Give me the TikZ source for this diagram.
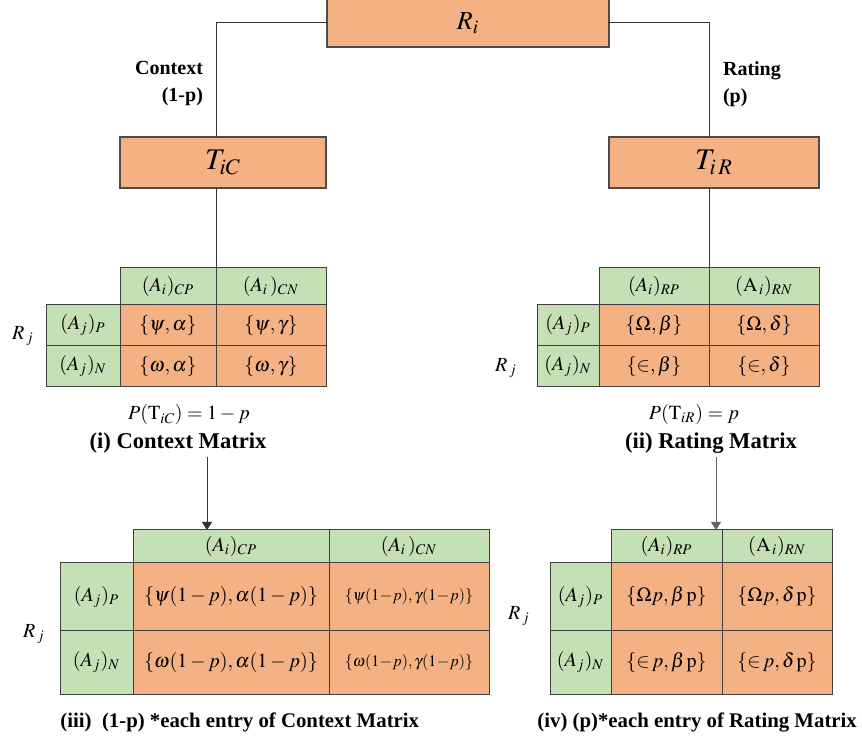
\documentclass[tikz,border=0pt]{standalone}
\usepackage{mathptmx}
\usepackage{fontspec}
\setmainfont{Liberation Serif}
\usetikzlibrary{arrows.meta}

\definecolor{cellorange}{HTML}{F4B183}
\definecolor{cellgreen}{HTML}{C5E0B4}

% style, name, x1, y1, x2, y2, text  (pixel corners, y going down)
\newcommand{\cell}[7]{%
  \node[#1, minimum width={(#5-#3)*0.5pt}, minimum height={(#6-#4)*0.5pt}]
    (#2) at ({(#3+#5)/2},{(#4+#6)/2}) {#7};}

\begin{document}
\begin{tikzpicture}[x=0.5pt, y=-0.5pt,
    box/.style={draw=black!70, line width=0.6pt, fill=cellorange,
      inner sep=0pt, outer sep=0pt},
    val/.style={draw=black!75, line width=0.5pt, fill=cellorange,
      inner sep=0pt, outer sep=0pt, font=\fontsize{10}{12}\selectfont},
    head/.style={val, fill=cellgreen},
    lbl/.style={font=\bfseries\fontsize{10}{13.5}\selectfont},
    title/.style={font=\bfseries\fontsize{11.3}{13}\selectfont},
    note/.style={font=\bfseries\fontsize{10.4}{13}\selectfont, anchor=west, inner sep=0pt},
    eqn/.style={font=\fontsize{10}{12}\selectfont},
    link/.style={black!80, line width=0.5pt},
    tip/.style={-{Triangle[length=4pt, width=5pt]}}]
  \useasboundingbox (0,0) rectangle (862,742);

  % root and the two branches
  \cell{box, font=\fontsize{13}{15}\selectfont}{Ri}{327}{-1}{609}{47}{\raisebox{-2pt}{$R_i$}}
  \cell{box, font=\fontsize{15}{17}\selectfont}{TiC}{120}{137}{326}{188}{$T_{iC}$}
  \cell{box, font=\fontsize{15}{17}\selectfont}{TiR}{609}{137}{819}{188}{$T_{i\,R}$}

  \node[lbl, align=right, anchor=east] (ctx) at (210,84) {Context\\(1-p)};
  \node[lbl, align=left, anchor=west] (rat) at (716,84) {Rating\\(p)};

  % (i) context matrix
  \cell{head}{hC1}{120}{268}{216}{305}{$(A_i)_{CP}$}
  \cell{head}{hC2}{216}{268}{326}{305}{$(A_i\,)_{CN}$}
  \cell{head}{rC1}{46}{305}{120}{346}{$(A_j)_P$}
  \cell{head}{rC2}{46}{346}{120}{387}{$(A_j)_N$}
  \cell{val}{cC11}{120}{305}{216}{346}{$\{\psi,\alpha\}$}
  \cell{val}{cC12}{216}{305}{326}{346}{$\{\psi,\gamma\}$}
  \cell{val}{cC21}{120}{346}{216}{387}{$\{\omega,\alpha\}$}
  \cell{val}{cC22}{216}{346}{326}{387}{$\{\omega,\gamma\}$}
  \node[eqn] (RjC) at (23,336) {$R_{\,j}$};
  \node[eqn] (pC) at (189,415) {$P(\mathrm{T}_{iC})=1-p$};
  \node[title] (capC) at (178,443) {(i) Context Matrix};

  % (ii) rating matrix
  \cell{head}{hR1}{599}{268}{709}{305}{$(A_i)_{RP}$}
  \cell{head}{hR2}{709}{268}{819}{305}{$(\mathrm{A}_{\,i})_{RN}$}
  \cell{head}{rR1}{537}{305}{599}{346}{$(A_j)_P$}
  \cell{head}{rR2}{537}{346}{599}{387}{$(A_j)_N$}
  \cell{val}{cR11}{599}{305}{709}{346}{$\{\Omega,\beta\}$}
  \cell{val}{cR12}{709}{305}{819}{346}{$\{\Omega,\delta\}$}
  \cell{val}{cR21}{599}{346}{709}{387}{$\{{\in},\beta\}$}
  \cell{val}{cR22}{709}{346}{819}{387}{$\{{\in},\delta\}$}
  \node[eqn] (RjR) at (506,368) {$R_{\,j}$};
  \node[eqn] (pR) at (694,415) {$P(\mathrm{T}_{iR})=p$};
  \node[title] (capR) at (711,443) {(ii) Rating Matrix};

  % (iii) context matrix times (1-p)
  \cell{head}{hD1}{133}{530}{329}{563}{$(A_i)_{CP}$}
  \cell{head}{hD2}{329}{530}{489}{563}{$(A_i\,)_{CN}$}
  \cell{head}{rD1}{60}{563}{133}{631}{$(A_j)_P$}
  \cell{head}{rD2}{60}{631}{133}{694}{$(A_j)_N$}
  \cell{val}{cD11}{133}{563}{329}{631}{$\{\psi(1-p),\alpha(1-p)\}$}
  \cell{val, font=\fontsize{8}{10}\selectfont}{cD12}{329}{563}{489}{631}{$\{\psi(1\!-\!p),\gamma(1\!-\!p)\}$}
  \cell{val}{cD21}{133}{631}{329}{694}{$\{\omega(1-p),\alpha(1-p)\}$}
  \cell{val, font=\fontsize{8}{10}\selectfont}{cD22}{329}{631}{489}{694}{$\{\omega(1\!-\!p),\gamma(1\!-\!p)\}$}
  \node[eqn] (RjD) at (34,634) {$R_{\,j}$};
  \node[note] (capD) at (60,722) {(iii)~ (1-p) *each entry of Context Matrix};

  % (iv) rating matrix times p
  \cell{head}{hE1}{611}{530}{722}{563}{$(A_i)_{RP}$}
  \cell{head}{hE2}{722}{530}{832}{563}{$(\mathrm{A}_{\,i})_{RN}$}
  \cell{head}{rE1}{550}{563}{611}{631}{$(A_j)_P$}
  \cell{head}{rE2}{550}{631}{611}{694}{$(A_j)_N$}
  \cell{val}{cE11}{611}{563}{722}{631}{$\{\Omega p,\beta\,\mathrm{p}\}$}
  \cell{val}{cE12}{722}{563}{832}{631}{$\{\Omega p,\delta\,\mathrm{p}\}$}
  \cell{val}{cE21}{611}{631}{722}{694}{$\{{\in}\,p,\beta\,\mathrm{p}\}$}
  \cell{val}{cE22}{722}{631}{832}{694}{$\{{\in}\,p,\delta\,\mathrm{p}\}$}
  \node[eqn] (RjE) at (519,616) {$R_{\,j}$};
  \node[note] (capE) at (537,722) {(iv) (p)*each entry of Rating Matrix};

  % tree lines
  \draw[link] (Ri.west) -| (TiC.north -| hC1.north east);
  \draw[link] (Ri.east) -| (TiR.north -| hR1.north east);
  \draw[link] (TiC.south -| hC1.north east) -- (hC1.north east);
  \draw[link] (TiR.south -| hR1.north east) -- (hR1.north east);

  % arrows down to the scaled matrices
  \coordinate (aC) at (207,457);
  \coordinate (aR) at (716,457);
  \draw[link, tip] (aC) -- (aC |- hD1.north);
  \draw[link, black!60, tip] (aR) -- (aR |- hE1.north);
\end{tikzpicture}
\end{document}
